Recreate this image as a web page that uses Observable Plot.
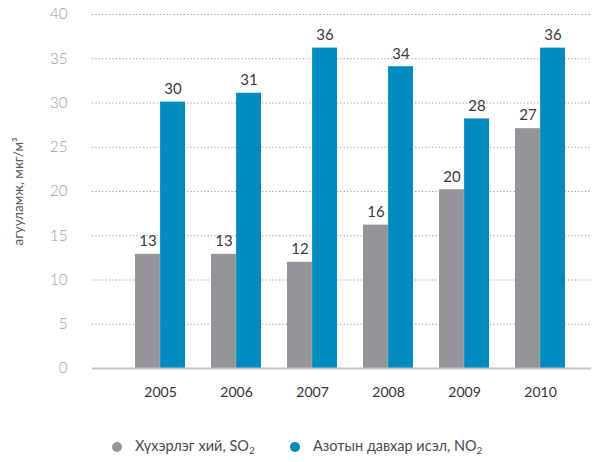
<!DOCTYPE html>
<html>
<head>
<meta charset="utf-8">
<script src="https://cdn.jsdelivr.net/npm/d3@7"></script>
<script src="https://cdn.jsdelivr.net/npm/@observablehq/plot@0.6"></script>
<style>
  html, body { margin: 0; padding: 0; background: #fff; }
  body { width: 595px; height: 462px; font-family: Lato, "Open Sans", sans-serif; }
  #legend { position: relative; height: 47px; font-size: 14.5px; color: #4a4a4a; font-weight: 400; }
  .item { position: absolute; top: 22px; display: flex; align-items: center; white-space: nowrap; }
  .dot { width: 10px; height: 10px; border-radius: 50%; margin-right: 13px; }
  sub { font-size: 10px; vertical-align: -3px; }
</style>
</head>
<body>
<div id="chart"></div>
<div id="legend"></div>
<script>
const years = ["2005", "2006", "2007", "2008", "2009", "2010"];
const so2 = [12.9, 12.9, 12.0, 16.2, 20.2, 27.1];
const no2 = [30.1, 31.1, 36.2, 34.1, 28.2, 36.2];
const so2Labels = ["13", "13", "12", "16", "20", "27"];
const no2Labels = ["30", "31", "36", "34", "28", "36"];
const yTicks = [0, 5, 10, 15, 20, 25, 30, 35, 40];
const seriesNames = ["Хүхэрлэг хий, SO₂", "Азотын давхар исэл, NO₂"];
const colors = ["#949599", "#008cc1"];

const so2Data = years.map((y, i) => ({year: y, value: so2[i], label: so2Labels[i]}));
const no2Data = years.map((y, i) => ({year: y, value: no2[i], label: no2Labels[i]}));

const chart = Plot.plot({
  width: 595,
  height: 415,
  marginLeft: 92,
  marginRight: 4,
  marginTop: 14,
  marginBottom: 47,
  style: {fontFamily: "Lato, 'Open Sans', sans-serif", background: "#fff"},
  x: {
    type: "band",
    domain: years,
    range: [122, 578],
    paddingInner: 0.34,
    paddingOuter: 0.17,
    label: null,
    tickSize: 0,
    tickPadding: 19
  },
  y: {
    domain: [0, 40],
    ticks: yTicks,
    label: "агууламж, мкг/м³",
    labelAnchor: "center",
    tickSize: 0,
    tickPadding: 25
  },
  marks: [
    Plot.gridY(yTicks.filter(d => d > 0), {stroke: "#999", strokeOpacity: 1, strokeDasharray: "1.2,2.2", strokeWidth: 1}),
    Plot.axisY({ticks: yTicks, tickSize: 0, tickPadding: 25, fontSize: 15, fontWeight: 300, color: "#9a9a9a",
      label: null}),
    Plot.axisY({ticks: [], tickSize: 0, fontSize: 13.5, fontWeight: 400, color: "#555",
      label: "агууламж, мкг/м³", labelAnchor: "center", labelArrow: "none", labelOffset: 79}),
    Plot.axisX({tickSize: 0, tickPadding: 19, fontSize: 14, fontWeight: 400, color: "#333", label: null}),
    Plot.barY(so2Data, {x: "year", y: "value", fill: colors[0], insetRight: 25.1}),
    Plot.barY(no2Data, {x: "year", y: "value", fill: colors[1], insetLeft: 25.1}),
    Plot.ruleY([0], {stroke: "#c4c4c4", strokeWidth: 2}),
    Plot.text(so2Data, {x: "year", y: "value", text: "label", dx: -12.5, dy: -13, fontSize: 15, fontWeight: 400, fill: "#3a3a3a"}),
    Plot.text(no2Data, {x: "year", y: "value", text: "label", dx: 12.5, dy: -13, fontSize: 15, fontWeight: 400, fill: "#3a3a3a"})
  ]
});
document.getElementById("chart").appendChild(chart);

const legend = document.getElementById("legend");
const lefts = [112, 290];
seriesNames.forEach((name, i) => {
  const item = document.createElement("div");
  item.className = "item";
  item.style.left = lefts[i] + "px";
  const dot = document.createElement("div");
  dot.className = "dot";
  dot.style.background = colors[i];
  const label = document.createElement("span");
  const base = name.slice(0, -2);
  label.innerHTML = base + "<span>" + name.slice(-2, -1) + "</span><sub>2</sub>";
  item.appendChild(dot);
  item.appendChild(label);
  legend.appendChild(item);
});
</script>
</body>
</html>
